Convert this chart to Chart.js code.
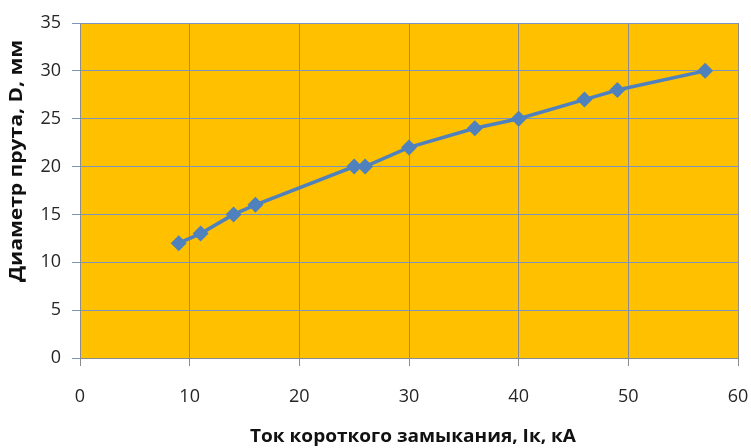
<!DOCTYPE html>
<html>
<head>
<meta charset="utf-8">
<script src="https://cdn.jsdelivr.net/npm/chart.js@4.4.1/dist/chart.umd.min.js"></script>
<style>
  html, body { margin: 0; padding: 0; background: #ffffff; }
  #wrap { width: 751px; height: 448px; }
</style>
</head>
<body>
<div id="wrap"><canvas id="c" width="751" height="448"></canvas></div>
<script>
// Short-circuit current (kA) vs. rod diameter (mm)
const currentKA = [9, 11, 14, 16, 25, 26, 30, 36, 40, 46, 49, 57];
const diameterMM = [12, 13, 15, 16, 20, 20, 22, 24, 25, 27, 28, 30];
const xTitle = 'Ток короткого замыкания, Iк, кА';
const yTitle = 'Диаметр прута, D, мм';

const points = currentKA.map((x, i) => ({ x: x, y: diameterMM[i] }));

const FONT = "'Open Sans', 'Liberation Sans', Arial, sans-serif";

// Draws a title stretched along its length to a given span
function stretchedText(ctx, text, cx, cy, span, rotate) {
  ctx.save();
  ctx.translate(cx, cy);
  if (rotate) ctx.rotate(-Math.PI / 2);
  const w = ctx.measureText(text).width;
  ctx.scale(span / w, 1);
  ctx.fillText(text, 0, 0);
  ctx.restore();
}

// Plot-area fill and axis titles
const decor = {
  id: 'decor',
  beforeDraw(chart) {
    const { ctx, chartArea: a } = chart;
    ctx.save();
    ctx.fillStyle = '#FFC000';
    ctx.fillRect(a.left, a.top, a.right - a.left, a.bottom - a.top);
    ctx.restore();
  },
  afterDraw(chart) {
    const { ctx } = chart;
    ctx.save();
    ctx.fillStyle = '#111111';
    ctx.font = 'bold 17px ' + FONT;
    ctx.textAlign = 'center';
    ctx.textBaseline = 'middle';
    stretchedText(ctx, xTitle, 413, 437, 326, false);
    stretchedText(ctx, yTitle, 17, 161, 242, true);
    ctx.restore();
  }
};

new Chart(document.getElementById('c'), {
  type: 'scatter',
  data: {
    datasets: [{
      data: points,
      showLine: true,
      borderColor: '#4F81BD',
      borderWidth: 3.5,
      backgroundColor: '#4F81BD',
      pointStyle: 'rectRot',
      pointRadius: 8,
      pointHoverRadius: 8,
      pointBorderWidth: 0
    }]
  },
  options: {
    responsive: false,
    animation: false,
    layout: { padding: { top: 23, right: 0, left: 0, bottom: 0 } },
    plugins: { legend: { display: false }, tooltip: { enabled: false } },
    scales: {
      x: {
        type: 'linear',
        min: 0, max: 60,
        ticks: { stepSize: 10, color: '#262626', font: { family: FONT, size: 18 }, padding: 20 },
        grid: { color: '#8C8C8C', lineWidth: 1, tickLength: 8 },
        border: { color: '#8C8C8C', width: 1 },
        afterFit(s) { s.height = 90; s.paddingRight = 13; }
      },
      y: {
        min: 0, max: 35,
        ticks: { stepSize: 5, color: '#262626', font: { family: FONT, size: 18 }, padding: 11 },
        grid: { color: '#7A96BE', lineWidth: 1, tickLength: 8 },
        border: { color: '#8C8C8C', width: 1 },
        afterFit(s) { s.width = 80; }
      }
    }
  },
  plugins: [decor]
});
</script>
</body>
</html>
